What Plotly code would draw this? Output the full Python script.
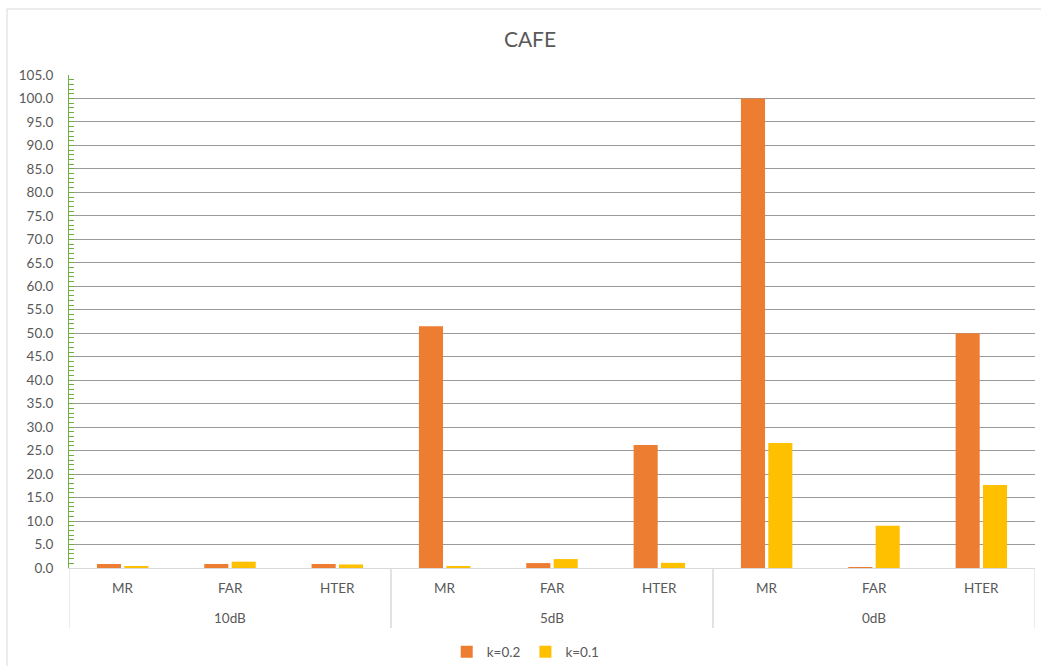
import plotly.graph_objects as go

# Grouped error rates for the CAFE noise condition
snr_levels = ["10dB", "10dB", "10dB", "5dB", "5dB", "5dB", "0dB", "0dB", "0dB"]
metrics = ["MR", "FAR", "HTER", "MR", "FAR", "HTER", "MR", "FAR", "HTER"]
k02_values = [0.85, 0.85, 0.85, 51.5, 1.05, 26.2, 100.0, 0.2, 50.0]
k01_values = [0.35, 1.35, 0.75, 0.3, 1.9, 1.1, 26.6, 9.0, 17.7]

series_names = ["k=0.2", "k=0.1"]
series_colors = ["#ED7D31", "#FFC000"]

FONT = "Lato, 'Open Sans', sans-serif"
TEXT_GREY = "#595959"
LIGHT_LINE = "#d9d9d9"
LABEL_SIZE = 13.5

# one category slot per (SNR, metric) pair
slots = [f"{s} {m}" for s, m in zip(snr_levels, metrics)]

fig = go.Figure()
for name, vals, color in zip(series_names, [k02_values, k01_values], series_colors):
    fig.add_trace(go.Bar(
        x=slots,
        y=vals,
        name=name,
        marker=dict(color=color, line=dict(width=0)),
    ))

PLOT_H = 493  # plot area height in px, used for offsets below the axis

# two-row category labels: metric row, then SNR group row
for slot, m in zip(slots, metrics):
    fig.add_annotation(
        x=slot, xref="x", y=-20 / PLOT_H, yref="paper",
        text=m, showarrow=False, xanchor="center", yanchor="middle",
        font=dict(family=FONT, size=LABEL_SIZE, color=TEXT_GREY),
    )

group_names = []
for s in snr_levels:
    if s not in group_names:
        group_names.append(s)
for g in group_names:
    idx = [i for i, s in enumerate(snr_levels) if s == g]
    fig.add_annotation(
        x=(idx[0] + idx[-1]) / 2, xref="x", y=-50 / PLOT_H, yref="paper",
        text=g, showarrow=False, xanchor="center", yanchor="middle",
        font=dict(family=FONT, size=LABEL_SIZE, color=TEXT_GREY),
    )
    # vertical dividers framing each SNR group
    for edge in (idx[0] - 0.5, idx[-1] + 0.5):
        fig.add_shape(
            type="line", xref="x", yref="paper",
            x0=edge, x1=edge, y0=0, y1=-60 / PLOT_H,
            line=dict(color=LIGHT_LINE, width=1),
        )

fig.update_layout(
    width=1041,
    height=666,
    autosize=False,
    paper_bgcolor="white",
    plot_bgcolor="white",
    margin=dict(l=69, r=6, t=75, b=98, autoexpand=False),
    barmode="group",
    bargap=0.49,
    bargroupgap=0.12,
    title=dict(
        text="CAFE",
        x=530 / 1041,
        xref="container",
        y=0.94,
        yref="container",
        xanchor="center",
        yanchor="middle",
        font=dict(family=FONT, size=21, color=TEXT_GREY),
    ),
    font=dict(family=FONT, size=LABEL_SIZE, color=TEXT_GREY),
    legend=dict(
        orientation="h",
        x=0.505,
        xref="container",
        xanchor="center",
        y=14 / 666,
        yref="container",
        yanchor="middle",
        font=dict(family=FONT, size=LABEL_SIZE, color=TEXT_GREY),
        itemwidth=30,
        traceorder="normal",
        tracegroupgap=0,
    ),
    showlegend=True,
)

fig.update_xaxes(
    type="category",
    range=[-0.5, len(slots) - 0.5],
    showgrid=False,
    showline=True,
    linecolor=LIGHT_LINE,
    linewidth=1,
    ticks="",
    showticklabels=False,
    automargin=False,
)

fig.update_yaxes(
    range=[0, 105],
    dtick=5,
    tick0=0,
    tickformat=".1f",
    showgrid=True,
    gridcolor="#9a9a9a",
    gridwidth=1,
    zeroline=False,
    showline=True,
    linecolor="#70AD47",
    linewidth=1,
    ticks="inside",
    ticklen=5,
    tickcolor="#70AD47",
    minor=dict(dtick=1, ticks="inside", ticklen=5, tickcolor="#70AD47", showgrid=False),
    ticklabelstandoff=12,
    tickfont=dict(family=FONT, size=LABEL_SIZE, color=TEXT_GREY),
    automargin=False,
)

# Outer chart frame (left and top edges fall inside the page)
fig.add_shape(
    type="rect",
    xref="paper", yref="paper",
    x0=(7 - 69) / 966, x1=1.2,
    y0=-0.5, y1=(568 - 9) / PLOT_H,
    line=dict(color=LIGHT_LINE, width=1),
    fillcolor="rgba(0,0,0,0)",
    layer="below",
)

fig.write_html("out.html")
